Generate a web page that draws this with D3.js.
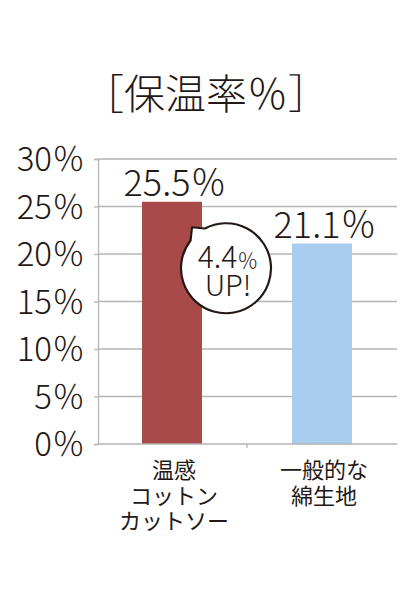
<!DOCTYPE html>
<html><head><meta charset="utf-8">
<script src="https://cdn.jsdelivr.net/npm/d3@7"></script>
<style>
html,body{margin:0;padding:0;background:#fff;}
svg{display:block;}
text{font-family:"Noto Sans CJK JP",sans-serif;fill:#231815;}
.lt{font-weight:300;}
</style></head>
<body>
<script>
const title = "［保温率％］";
const categories = ["温感コットンカットソー", "一般的な綿生地"];
const categoryLines = [["温感", "コットン", "カットソー"], ["一般的な", "綿生地"]];
const values = [25.5, 21.1];
const valueLabels = ["25.5％", "21.1％"];
const yTicks = [0, 5, 10, 15, 20, 25, 30];
const barColors = ["#a84a4a", "#a9cdef"];
const calloutLines = ["4.4", "UP!"];

const W = 420, H = 600;
const svg = d3.select("body").append("svg").attr("width", W).attr("height", H);

const y = d3.scaleLinear().domain([0, 30]).range([444, 159]);
const x = d3.scaleBand().domain(categories).range([97, 397]).paddingInner(0.6).paddingOuter(0.3);

// title
svg.append("text").attr("class", "lt").attr("x", 206).attr("y", 109)
  .attr("text-anchor", "middle").attr("font-size", 41).text(title);

// gridlines
svg.append("g").selectAll("line").data(yTicks.filter(d => d > 0)).join("line")
  .attr("x1", 98).attr("x2", 397).attr("y1", d => y(d)).attr("y2", d => y(d))
  .attr("stroke", "#b5b5b5").attr("stroke-width", 1.3);

// y axis
const yAxis = svg.append("g").attr("transform", "translate(98,0)")
  .call(d3.axisLeft(y).tickValues(yTicks).tickFormat(d => d + "％").tickSize(4).tickPadding(9));
yAxis.select(".domain").attr("stroke", "#b5b5b5").attr("stroke-width", 1.3);
yAxis.selectAll(".tick line").attr("stroke", "#b5b5b5").attr("stroke-width", 1.3);
yAxis.selectAll(".tick text").attr("class", "lt").attr("font-size", 33).attr("fill", "#231815")
  .attr("font-family", null).attr("dy", "0.36em");

// bars
svg.append("g").selectAll("rect").data(categories).join("rect")
  .attr("x", d => x(d)).attr("width", x.bandwidth())
  .attr("y", (d, i) => y(values[i])).attr("height", (d, i) => y(0) - y(values[i]))
  .attr("fill", (d, i) => barColors[i]);

// x baseline
svg.append("line").attr("x1", 98).attr("x2", 397).attr("y1", y(0)).attr("y2", y(0))
  .attr("stroke", "#b5b5b5").attr("stroke-width", 1.3);
svg.append("line").attr("x1", 97 + x.step()).attr("x2", 97 + x.step())
  .attr("y1", y(0)).attr("y2", y(0) + 4).attr("stroke", "#b5b5b5").attr("stroke-width", 1.3);

// value labels
svg.append("g").selectAll("text").data(categories).join("text").attr("class", "lt")
  .attr("x", d => x(d) + x.bandwidth() / 2 + 3).attr("y", (d, i) => y(values[i]) - 6)
  .attr("text-anchor", "middle").attr("font-size", 36).text((d, i) => valueLabels[i]);

// category labels
categories.forEach((c, i) => {
  categoryLines[i].forEach((line, j) => {
    svg.append("text").attr("text-anchor", "middle")
      .attr("x", x(c) + x.bandwidth() / 2 + 2).attr("y", 478 + j * 25.5)
      .attr("font-size", 22).text(line);
  });
});

// callout bubble
const cx = x(categories[0]) + x.bandwidth() + 24, cy = y(18.5), r = 45;
const tip = [cx - 34, cy - 41];
const a1 = -142 * Math.PI / 180, a2 = -118 * Math.PI / 180;
const p1 = [cx + r * Math.cos(a1), cy + r * Math.sin(a1)];
const p2 = [cx + r * Math.cos(a2), cy + r * Math.sin(a2)];
const path = `M${p1[0]},${p1[1]} L${tip[0]},${tip[1]} L${p2[0]},${p2[1]} A${r},${r} 0 1 1 ${p1[0]},${p1[1]} Z`;
svg.append("path").attr("d", path).attr("fill", "#fff").attr("stroke", "#231815").attr("stroke-width", 2.2)
  .attr("stroke-linejoin", "round");
const t1 = svg.append("text").attr("class", "lt").attr("x", cx + 2).attr("y", cy).attr("text-anchor", "middle").attr("font-size", 30);
t1.append("tspan").text(calloutLines[0]);
t1.append("tspan").attr("font-size", 21).text("％");
svg.append("text").attr("class", "lt").attr("x", cx + 2).attr("y", cy + 28).attr("text-anchor", "middle").attr("font-size", 29).text(calloutLines[1]);
</script>
</body></html>
